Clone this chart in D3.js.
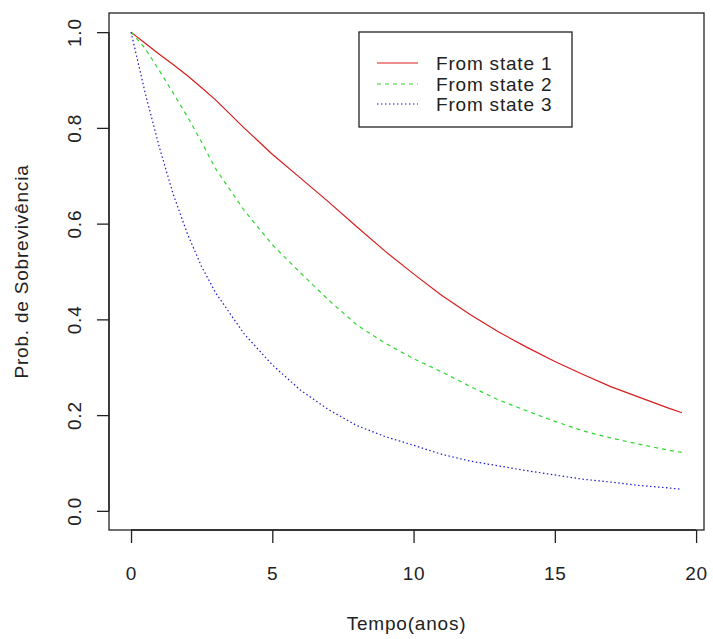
<!DOCTYPE html>
<html>
<head>
<meta charset="utf-8">
<script src="https://cdn.jsdelivr.net/npm/d3@7"></script>
<style>
  body { margin: 0; background: #fff; }
  text { font-family: "Liberation Sans", Arial, sans-serif; fill: #222; letter-spacing: 0.8px; }
</style>
</head>
<body>
<div id="display"></div>
<script>
// data
const tempo = [0, 0.5, 1, 1.5, 2, 2.5, 3, 4, 5, 6, 7, 8, 9, 10, 11, 12, 13, 14, 15, 16, 17, 18, 19, 19.5];
const state1 = [1.0, 0.977, 0.954, 0.932, 0.909, 0.884, 0.858, 0.80, 0.745, 0.695, 0.645, 0.593, 0.542, 0.495, 0.45, 0.41, 0.374, 0.342, 0.312, 0.285, 0.259, 0.237, 0.215, 0.205];
const state2 = [1.0, 0.966, 0.92, 0.872, 0.823, 0.77, 0.714, 0.628, 0.556, 0.497, 0.44, 0.388, 0.35, 0.318, 0.29, 0.26, 0.232, 0.209, 0.187, 0.167, 0.152, 0.139, 0.127, 0.122];
const state3 = [1.0, 0.873, 0.76, 0.66, 0.578, 0.51, 0.455, 0.37, 0.305, 0.252, 0.211, 0.178, 0.155, 0.137, 0.118, 0.104, 0.094, 0.084, 0.075, 0.066, 0.06, 0.053, 0.048, 0.045];

const seriesNames = ["From state 1", "From state 2", "From state 3"];
const seriesValues = [state1, state2, state3];
const seriesColors = ["#d81c1c", "#2fd62f", "#1c1ccc"];
const seriesDash = [null, "4,4", "1.5,2.5"];

const xTicks = [0, 5, 10, 15, 20];
const yTicks = [0, 0.2, 0.4, 0.6, 0.8, 1.0];

const svg = d3.select('#display')
  .append('svg')
  .attr('width', 713)
  .attr('height', 639);

const box = {left: 109, right: 704, top: 13, bottom: 530};
const fontSize = '19px';

// R style 4% padding on the ranges
const x = d3.scaleLinear().domain([-0.78, 20.28]).range([box.left, box.right]);
const y = d3.scaleLinear().domain([-0.04, 1.04]).range([box.bottom, box.top]);

// plot frame
svg.append('rect')
  .attr('x', box.left)
  .attr('y', box.top)
  .attr('width', box.right - box.left)
  .attr('height', box.bottom - box.top)
  .attr('fill', 'none')
  .attr('stroke', '#222')
  .attr('stroke-width', 1.3);

// x axis
const xAxis = svg.append('g')
  .attr('transform', `translate(0, ${box.bottom})`)
  .call(d3.axisBottom(x).tickValues(xTicks).tickSize(13).tickFormat(d3.format('d')));
xAxis.select('.domain')
  .attr('d', `M${x(0)},0H${x(20)}`)
  .attr('stroke', '#222')
  .attr('stroke-width', 1.3);
xAxis.selectAll('.tick line').attr('stroke', '#222').attr('stroke-width', 1.3);
xAxis.selectAll('.tick text')
  .attr('y', 43)
  .attr('dy', null)
  .attr('dominant-baseline', 'central')
  .attr('font-size', fontSize)
  .attr('font-family', '"Liberation Sans", Arial, sans-serif')
  .attr('fill', '#222');

// y axis with rotated labels
const yAxis = svg.append('g')
  .attr('transform', `translate(${box.left}, 0)`)
  .call(d3.axisLeft(y).tickValues(yTicks).tickSize(12).tickFormat(d3.format('.1f')));
yAxis.select('.domain')
  .attr('d', `M0,${y(0)}V${y(1)}`)
  .attr('stroke', '#222')
  .attr('stroke-width', 1.3);
yAxis.selectAll('.tick line').attr('stroke', '#222').attr('stroke-width', 1.3);
yAxis.selectAll('.tick text')
  .attr('x', null)
  .attr('dy', null)
  .attr('transform', 'translate(-35, 0) rotate(-90)')
  .attr('text-anchor', 'middle')
  .attr('dominant-baseline', 'central')
  .attr('font-size', fontSize)
  .attr('font-family', '"Liberation Sans", Arial, sans-serif')
  .attr('fill', '#222');

// axis titles
svg.append('text')
  .attr('x', (box.left + box.right) / 2)
  .attr('y', 623)
  .attr('text-anchor', 'middle')
  .attr('dominant-baseline', 'central')
  .attr('font-size', fontSize)
  .text('Tempo(anos)');

svg.append('text')
  .attr('transform', `translate(21, ${(box.top + box.bottom) / 2}) rotate(-90)`)
  .attr('text-anchor', 'middle')
  .attr('dominant-baseline', 'central')
  .attr('font-size', fontSize)
  .text('Prob. de Sobrevivência');

// curves
const line = d3.line()
  .x((d, i) => x(tempo[i]))
  .y(d => y(d));

for (let k = 0; k < seriesValues.length; k++) {
  svg.append('path')
    .datum(seriesValues[k])
    .attr('d', line)
    .attr('fill', 'none')
    .attr('stroke', seriesColors[k])
    .attr('stroke-width', 1.2)
    .attr('stroke-dasharray', seriesDash[k]);
}

// legend
const legend = svg.append('g');
legend.append('rect')
  .attr('x', 359)
  .attr('y', 32)
  .attr('width', 213)
  .attr('height', 95)
  .attr('fill', 'white')
  .attr('stroke', '#222')
  .attr('stroke-width', 1.3);

const rowY = [63, 84, 104];
for (let k = 0; k < seriesNames.length; k++) {
  legend.append('line')
    .attr('x1', 377)
    .attr('x2', 418)
    .attr('y1', rowY[k])
    .attr('y2', rowY[k])
    .attr('stroke', seriesColors[k])
    .attr('stroke-width', 1.2)
    .attr('stroke-dasharray', seriesDash[k]);
  legend.append('text')
    .attr('x', 436)
    .attr('y', rowY[k])
    .attr('dominant-baseline', 'central')
    .attr('font-size', fontSize)
    .text(seriesNames[k]);
}
</script>
</body>
</html>
